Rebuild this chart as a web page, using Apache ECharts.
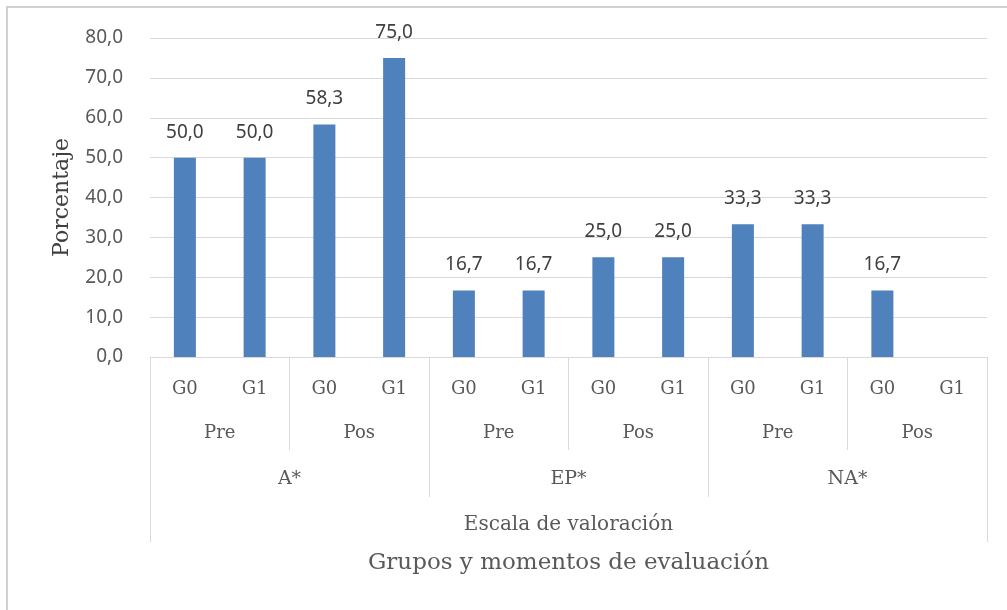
<!DOCTYPE html>
<html>
<head>
<meta charset="utf-8">
<script src="https://cdn.jsdelivr.net/npm/echarts@6/dist/echarts.min.js"></script>
<style>
  html, body { margin: 0; padding: 0; background: #ffffff; }
  #chart { width: 1007px; height: 610px; }
</style>
</head>
<body>
<div id="chart"></div>
<script>
// Group / moment / scale hierarchy along the horizontal axis
const groups = ['G0', 'G1', 'G0', 'G1', 'G0', 'G1', 'G0', 'G1', 'G0', 'G1', 'G0', 'G1'];
const moments = ['Pre', 'Pos', 'Pre', 'Pos', 'Pre', 'Pos'];
const scales = ['A*', 'EP*', 'NA*'];
const scaleTitle = ['Escala de valoración'];

// Percentage per group and moment (null = no value reported)
const percentages = [50.0, 50.0, 58.3, 75.0, 16.7, 16.7, 25.0, 25.0, 33.3, 33.3, 16.7, null];

// Vertical axis ticks
const yMin = 0;
const yMax = 80;
const yStep = 10;

const fmt = v => Number(v).toFixed(1).replace('.', ',');

const SERIF = 'DejaVu Serif';
const SANS = 'Noto Sans';
const AXIS_GREY = '#d9d9d9';
const TEXT_GREY = '#595959';

// One extra bottom axis per hierarchy level; its ticks draw the level separators
function levelAxis(cats, margin, tickLen, fontSize) {
  return {
    type: 'category',
    gridIndex: 0,
    position: 'bottom',
    offset: 0,
    data: cats,
    axisLine: { show: false },
    axisTick: { show: true, interval: 0, length: tickLen, lineStyle: { color: AXIS_GREY, width: 1 } },
    axisLabel: { interval: 0, margin: margin, color: TEXT_GREY, fontFamily: SERIF, fontSize: fontSize },
    splitLine: { show: false }
  };
}

const chart = echarts.init(document.getElementById('chart'), null, { renderer: 'canvas' });

chart.setOption({
  backgroundColor: '#ffffff',
  animation: false,
  graphic: [{
    type: 'rect',
    shape: { x: 7, y: 7, width: 1100, height: 700 },
    style: { fill: 'none', stroke: '#d0d0d0', lineWidth: 2 },
    silent: true
  }],
  grid: { left: 150, right: 20, top: 38, bottom: 253, containLabel: false },
  xAxis: [
    {
      type: 'category',
      position: 'bottom',
      data: groups,
      axisLine: { show: true, lineStyle: { color: AXIS_GREY, width: 1 } },
      axisTick: { show: false },
      axisLabel: { interval: 0, margin: 23, color: TEXT_GREY, fontFamily: SERIF, fontSize: 18 },
      name: 'Grupos y momentos de evaluación',
      nameLocation: 'middle',
      nameGap: 195,
      nameTextStyle: { color: TEXT_GREY, fontFamily: SERIF, fontSize: 23 }
    },
    levelAxis(moments, 67, 93, 18),
    levelAxis(scales, 113, 140, 19),
    levelAxis(scaleTitle, 158, 185, 20)
  ],
  yAxis: {
    type: 'value',
    min: yMin,
    max: yMax,
    interval: yStep,
    name: 'Porcentaje',
    nameLocation: 'middle',
    nameGap: 77,
    nameTextStyle: { color: '#404040', fontFamily: SERIF, fontSize: 22 },
    axisLine: { show: false },
    axisTick: { show: false },
    axisLabel: { margin: 27, color: TEXT_GREY, fontFamily: SANS, fontSize: 19, formatter: v => fmt(v) },
    splitLine: { lineStyle: { color: AXIS_GREY, width: 1 } }
  },
  series: [{
    type: 'bar',
    xAxisIndex: 0,
    data: percentages,
    barWidth: 22,
    itemStyle: { color: '#4f81bd' },
    label: {
      show: true,
      position: 'top',
      distance: 16,
      color: '#404040',
      fontFamily: SANS,
      fontSize: 19,
      formatter: p => (p.value == null ? '' : fmt(p.value))
    }
  }]
});
</script>
</body>
</html>
